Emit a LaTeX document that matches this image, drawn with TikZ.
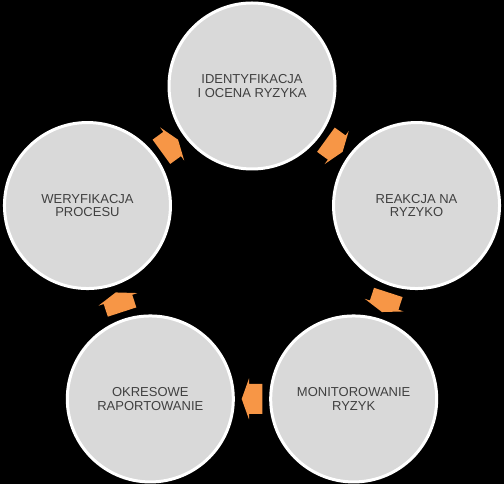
\documentclass[tikz,border=0pt]{standalone}
\usepackage{fontspec}
\setmainfont{Liberation Sans}
\usetikzlibrary{calc}
\definecolor{stagegrey}{HTML}{D9D9D9}
\definecolor{textgrey}{HTML}{404040}
\definecolor{arroworange}{HTML}{F79646}
\newcommand\cyclearrow[3]{%
  \fill[arroworange, shift={($(#1)!0.5!(#2)$)}, rotate=#3]
    (-10.3,-15) -- (3,-15) -- (3,-20.5) -- (10.3,0) -- (3,20.5) -- (3,15) -- (-10.3,15) -- cycle;}
\begin{document}
\begin{tikzpicture}[x=1pt,y=1pt,
  stage/.style={circle, draw=white, line width=3pt, fill=stagegrey,
    minimum size=166pt, inner sep=0pt, text=textgrey,
    font=\fontsize{13}{13.5}\selectfont, align=center}]
\fill[black] (0,0) rectangle (504,484);
\useasboundingbox (0,0) rectangle (504,484);
\coordinate (o) at (252,225);
\node[stage] (c1) at ($(o)+(90:173)$) {IDENTYFIKACJA\\I OCENA RYZYKA};
\node[stage] (c2) at ($(o)+(18:173)$) {REAKCJA NA\\RYZYKO};
\node[stage] (c3) at ($(o)+(-54:173)$) {MONITOROWANIE\\RYZYK};
\node[stage] (c4) at ($(o)+(-126:173)$) {OKRESOWE\\RAPORTOWANIE};
\node[stage] (c5) at ($(o)+(162:173)$) {WERYFIKACJA\\PROCESU};
\cyclearrow{c1}{c2}{-36}
\cyclearrow{c2}{c3}{-108}
\cyclearrow{c3}{c4}{180}
\cyclearrow{c4}{c5}{108}
\cyclearrow{c5}{c1}{36}
\end{tikzpicture}
\end{document}
